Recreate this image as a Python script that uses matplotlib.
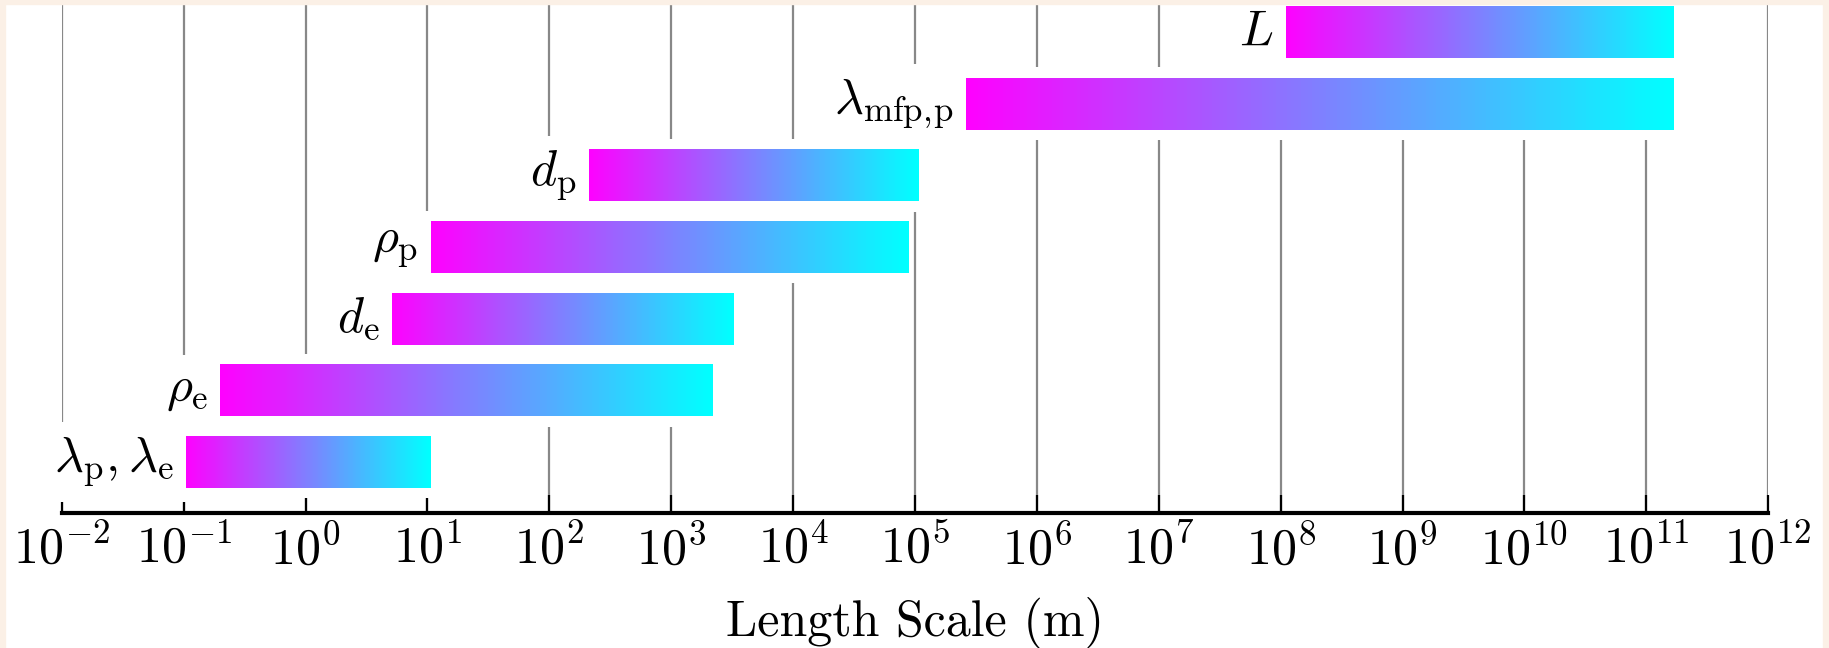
import numpy as np
import matplotlib
import matplotlib.pyplot as plt
from matplotlib.colors import LinearSegmentedColormap
from matplotlib.patches import Rectangle

plt.rcParams['mathtext.fontset'] = 'cm'
plt.rcParams['font.family'] = 'serif'
plt.rcParams['font.serif'] = ['cmr10']
plt.rcParams['axes.formatter.use_mathtext'] = True

# length scales (m), bottom row first
labels = [r'$\lambda_\mathrm{p}, \lambda_\mathrm{e}$', r'$\rho_\mathrm{e}$', r'$d_\mathrm{e}$',
          r'$\rho_\mathrm{p}$', r'$d_\mathrm{p}$', r'$\lambda_{\mathrm{mfp},\!\mathrm{p}}$', r'$L$']
scale_min = [0.1, 0.19, 4.9, 10.1, 200.0, 2.5e5, 1.05e8]
scale_max = [10.6, 2200.0, 3250.0, 8.9e4, 1.07e5, 1.7e11, 1.7e11]
tick_vals = [10.0**k for k in range(-2, 13)]

cmap = LinearSegmentedColormap.from_list('mag_cyan', ['#ff00ff', '#00ffff'])

fig = plt.figure(figsize=(18.29, 6.48), dpi=100)
ax = fig.add_axes([61.8 / 1829, 135 / 648, (1768.2 - 61.8) / 1829, 513 / 648])
ax.set_xscale('log')
ax.set_xlim(1e-2, 1e12)
ax.set_ylim(-0.712, 6.446)

bar_h = 0.726
rows = np.arange(len(labels))
starts = np.array(scale_min)
ends = np.array(scale_max)

# white band behind each bar hides the grid around it
pad = 10**0.025
ax.barh(rows, ends * pad - starts / pad, left=starts / pad, height=bar_h + 0.29,
        color='white', zorder=2)

for i, (a, b) in enumerate(zip(starts, ends)):
    xs = np.logspace(np.log10(a), np.log10(b), 201)
    ys = [rows[i] - bar_h / 2, rows[i] + bar_h / 2]
    c = np.linspace(0, 1, 200).reshape(1, -1)
    ax.pcolormesh(xs, ys, c, cmap=cmap, vmin=0, vmax=1, shading='flat',
                  edgecolors='none', antialiased=False, zorder=3)
    ax.annotate(labels[i], (a, rows[i]), xytext=(-7, 0), textcoords='offset points',
                ha='right', va='center', fontsize=36, zorder=4,
                bbox=dict(boxstyle='square,pad=0.25', fc='white', ec='none'))

ax.set_axisbelow(True)
ax.grid(axis='x', which='major', color='#888888', lw=1.6)
ax.set_xticks(tick_vals)
ax.xaxis.set_minor_locator(matplotlib.ticker.NullLocator())
ax.set_yticks([])
ax.tick_params(axis='x', which='major', direction='in', length=13, width=1.6,
               color='black', labelsize=36, pad=8)
for s in ['left', 'right', 'top']:
    ax.spines[s].set_visible(False)
ax.spines['bottom'].set_linewidth(3)
ax.set_xlabel('Length Scale (m)', fontsize=36, labelpad=17)

cream = '#fbf0e6'
fig.patches.append(Rectangle((0, 0), 5 / 1829, 1, transform=fig.transFigure, color=cream, zorder=10))
fig.patches.append(Rectangle((1 - 6 / 1829, 0), 6 / 1829, 1, transform=fig.transFigure, color=cream, zorder=10))
fig.patches.append(Rectangle((0, 1 - 4 / 648), 1, 4 / 648, transform=fig.transFigure, color=cream, zorder=10))

fig.savefig('out.png', dpi=100)
